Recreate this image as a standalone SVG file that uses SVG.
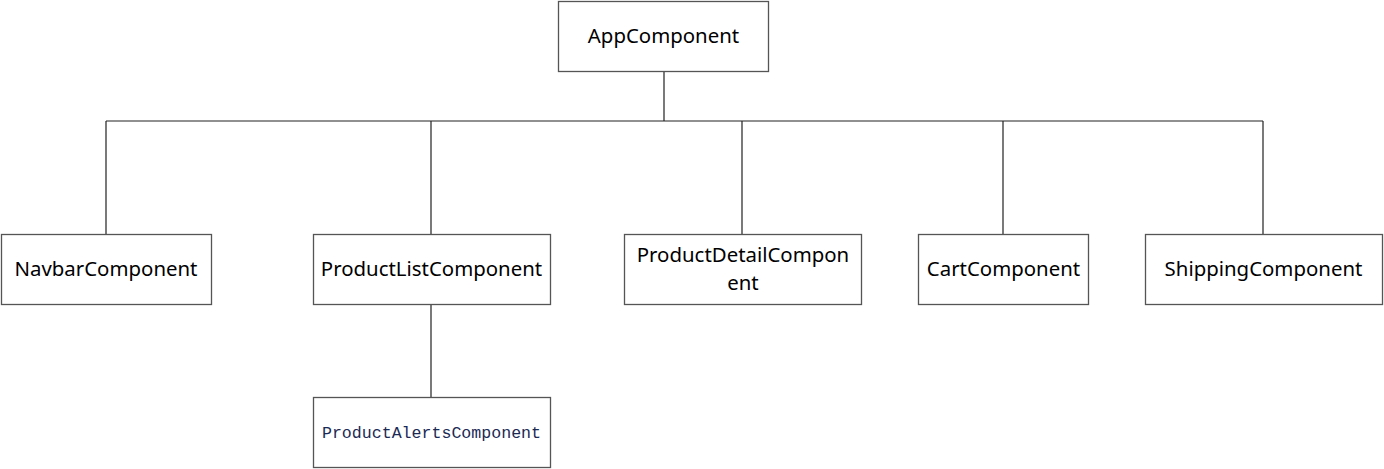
<svg xmlns="http://www.w3.org/2000/svg" width="1384" height="469" viewBox="0 0 1384 469">
<style>
.box{fill:#fff;stroke:#555;stroke-width:1.3}
.t{font-family:"Noto Sans","Open Sans",sans-serif;font-size:20.4px;fill:#000;text-anchor:middle;dominant-baseline:central}
.m{font-family:"Liberation Mono","DejaVu Sans Mono",monospace;font-size:16.6px;fill:#1b2a55;text-anchor:middle;dominant-baseline:central}
.c{fill:none;stroke:#222;stroke-width:1.2}
</style>
<rect width="1384" height="469" fill="#fff"/>
<g id="connectors">
<path class="c" d="M664 72V121M106 121H1263M106 121V234M431 121V234M742 121V234M1003 121V234M1263 121V234M431 305V397"/>
</g>
<g id="app"><rect class="box" x="558.5" y="1.5" width="210" height="70"/><text class="t" x="663.5" y="35">AppComponent</text></g>
<g id="navbar"><rect class="box" x="1.5" y="234.5" width="210" height="70"/><text class="t" x="106" y="268">NavbarComponent</text></g>
<g id="productlist"><rect class="box" x="313.5" y="234.5" width="237" height="70"/><text class="t" x="431.5" y="268">ProductListComponent</text></g>
<g id="productdetail"><rect class="box" x="624.5" y="234.5" width="237" height="70"/><text class="t" x="743" y="254"><tspan x="743">ProductDetailCompon</tspan><tspan x="743" dy="28">ent</tspan></text></g>
<g id="cart"><rect class="box" x="918.5" y="234.5" width="170" height="70"/><text class="t" x="1003.5" y="268">CartComponent</text></g>
<g id="shipping"><rect class="box" x="1145.5" y="234.5" width="237" height="70"/><text class="t" x="1263.5" y="268">ShippingComponent</text></g>
<g id="productalerts"><rect class="box" x="313.5" y="397.5" width="237" height="70"/><text class="m" x="431.5" y="433">ProductAlertsComponent</text></g>
</svg>
